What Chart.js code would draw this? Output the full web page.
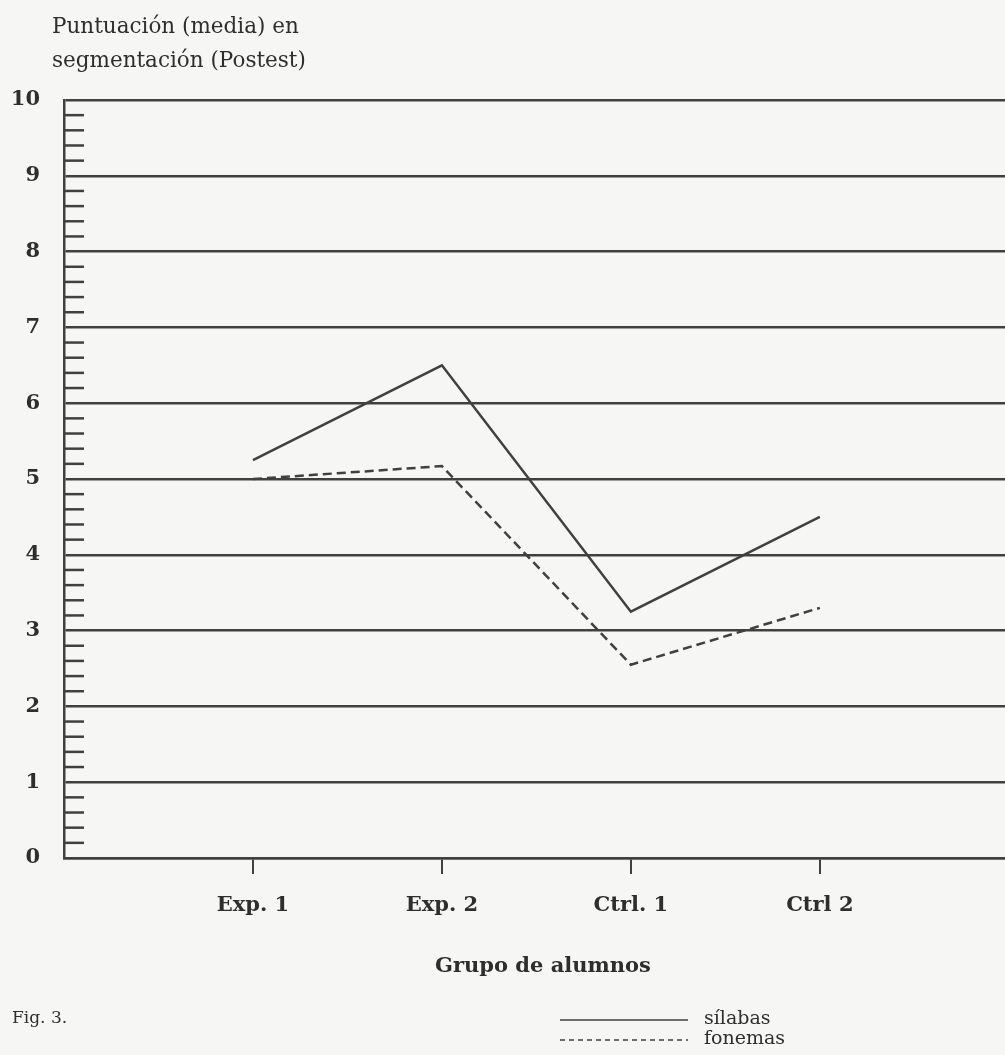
<!DOCTYPE html>
<html lang="es">
<head>
<meta charset="utf-8">
<title>Fig. 3 - Puntuación en segmentación (Postest)</title>
<script src="https://cdn.jsdelivr.net/npm/chart.js@4.4.1/dist/chart.umd.min.js"></script>
<style>
  html, body { margin: 0; padding: 0; background: #f6f6f4; }
  #wrap { width: 1005px; height: 1055px; }
</style>
</head>
<body>
<div id="wrap"><canvas id="chart" width="1005" height="1055"></canvas></div>
<script>
// datos
const grupos = ['Exp. 1', 'Exp. 2', 'Ctrl. 1', 'Ctrl 2'];
const silabas = [5.25, 6.5, 3.25, 4.5];
const fonemas = [5.0, 5.17, 2.55, 3.3];
const yTicks = [0, 1, 2, 3, 4, 5, 6, 7, 8, 9, 10];

const tituloY = ['Puntuación (media) en', 'segmentación (Postest)'];
const tituloX = 'Grupo de alumnos';
const pie = 'Fig. 3.';

const ink = '#2e2e2e';
const lineInk = '#404040';
const serif = '"DejaVu Serif", "Liberation Serif", serif';

function toPoints(values) {
    return values.map((v, i) => ({ x: i + 1, y: v }));
}

const paper = {
    id: 'paper',
    beforeDraw(chart) {
        const ctx = chart.ctx;
        ctx.save();
        ctx.fillStyle = '#f6f6f4';
        ctx.fillRect(0, 0, chart.width, chart.height);
        ctx.restore();
    }
};

// marcas menores cada 0,2 hacia dentro del area
const minorTicks = {
    id: 'minorTicks',
    afterDraw(chart) {
        const ctx = chart.ctx;
        const y = chart.scales.y;
        const left = chart.chartArea.left;
        ctx.save();
        ctx.strokeStyle = lineInk;
        ctx.lineWidth = 2.5;
        for (let i = 1; i < 50; i++) {
            if (i % 5 === 0) continue;
            const py = y.getPixelForValue(i / 5);
            ctx.beginPath();
            ctx.moveTo(left, py);
            ctx.lineTo(left + 20, py);
            ctx.stroke();
        }
        ctx.restore();
    }
};

const labels = {
    id: 'labels',
    afterDraw(chart) {
        const ctx = chart.ctx;
        ctx.save();
        ctx.fillStyle = ink;
        ctx.textBaseline = 'middle';

        ctx.font = '21.5px ' + serif;
        ctx.textAlign = 'left';
        ctx.fillText(tituloY[0], 52, 27);
        ctx.fillText(tituloY[1], 52, 61);

        ctx.font = 'bold 21px ' + serif;
        ctx.textAlign = 'center';
        ctx.fillText(tituloX, 543, 967);

        ctx.font = '17px ' + serif;
        ctx.textAlign = 'left';
        ctx.fillText(pie, 12, 1019);

        // leyenda
        ctx.font = '19px ' + serif;
        chart.data.datasets.forEach((ds, i) => {
            const ly = 1020 + i * 20;
            ctx.save();
            ctx.strokeStyle = ds.borderColor;
            ctx.lineWidth = 1.5;
            ctx.setLineDash(ds.borderDash ? [5, 4] : []);
            ctx.beginPath();
            ctx.moveTo(560, ly);
            ctx.lineTo(688, ly);
            ctx.stroke();
            ctx.restore();
            ctx.fillText(ds.label, 704, ly - 1);
        });
        ctx.restore();
    }
};

new Chart(document.getElementById('chart'), {
    type: 'line',
    data: {
        datasets: [
            {
                label: 'sílabas',
                data: toPoints(silabas),
                borderColor: lineInk,
                borderWidth: 2.5,
                pointRadius: 0,
                tension: 0
            },
            {
                label: 'fonemas',
                data: toPoints(fonemas),
                borderColor: lineInk,
                borderWidth: 2.5,
                borderDash: [9, 5],
                pointRadius: 0,
                tension: 0
            }
        ]
    },
    options: {
        responsive: false,
        animation: false,
        layout: { padding: { top: 100, left: 0, right: 0, bottom: 0 } },
        plugins: {
            legend: { display: false },
            tooltip: { enabled: false }
        },
        scales: {
            x: {
                type: 'linear',
                min: 0,
                max: 4.98,
                afterBuildTicks(scale) {
                    scale.ticks = grupos.map((g, i) => ({ value: i + 1 }));
                },
                afterFit(scale) {
                    scale.height = 197;
                },
                ticks: {
                    callback: (value) => grupos[value - 1],
                    color: ink,
                    font: { family: serif, size: 21, weight: 'bold' },
                    padding: 19,
                    maxRotation: 0
                },
                grid: {
                    drawOnChartArea: false,
                    drawTicks: true,
                    tickLength: 16,
                    color: lineInk,
                    lineWidth: 2
                },
                border: { display: true, color: lineInk, width: 2.5 }
            },
            y: {
                min: 0,
                max: 10,
                afterBuildTicks(scale) {
                    scale.ticks = yTicks.map(v => ({ value: v }));
                },
                afterFit(scale) {
                    scale.width = 64;
                },
                ticks: {
                    color: ink,
                    font: { family: serif, size: 21, weight: 'bold' },
                    padding: 24
                },
                grid: {
                    drawTicks: false,
                    color: lineInk,
                    lineWidth: 2.5
                },
                border: { display: true, color: lineInk, width: 2.5 }
            }
        }
    },
    plugins: [paper, minorTicks, labels]
});
</script>
</body>
</html>
